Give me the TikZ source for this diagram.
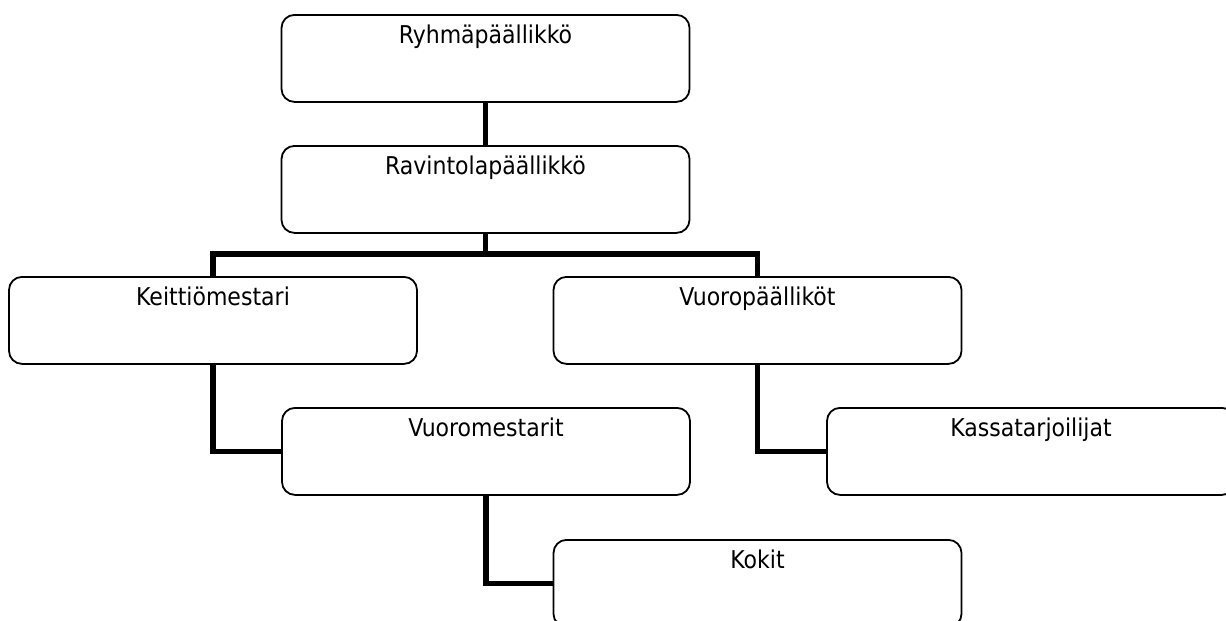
\documentclass[tikz,border=0pt]{standalone}
\usepackage{fontspec}
\setmainfont{DejaVu Sans Condensed}
\usetikzlibrary{positioning}

\tikzset{
    orgbox/.style={draw, line width=1.8pt, rounded corners=13pt, anchor=north,
        minimum width=408pt, inner xsep=0pt, inner ysep=0pt,
        text height=29pt, text depth=58pt, font=\fontsize{24.5}{28}\selectfont},
    link/.style={line width=5.5pt}
}

\begin{document}
\begin{tikzpicture}[x=1pt, y=-1pt]
        \useasboundingbox (0,0) rectangle (1226,621);
        \clip (0,0) rectangle (1226,621);
        % boxes, placed by their top edge
        \node[orgbox] (ryhma) at (485.5,14) {Ryhmäpäällikkö};
        \node[orgbox] (ravintola) at (485.5,145) {Ravintolapäällikkö};
        \node[orgbox] (keittio) at (213,276) {Keittiömestari};
        \node[orgbox] (vuoropaal) at (757.5,276) {Vuoropäälliköt};
        \node[orgbox] (vuoromest) at (486,407) {Vuoromestarit};
        \node[orgbox] (kassa) at (1031,407) {Kassatarjoilijat};
        \node[orgbox] (kokit) at (757.5,539) {Kokit};
        \coordinate (bus) at (485.5,254);
        % connectors
        \draw[link] (ryhma.south) -- (ravintola.north);
        \draw[link] (ravintola.south) -- (bus);
        \draw[link] (keittio.north) |- (bus) -| (vuoropaal.north);
        \draw[link] (keittio.south) |- (vuoromest.west);
        \draw[link] (vuoropaal.south) |- (kassa.west);
        \draw[link] (vuoromest.south) |- (kokit.west);
    \end{tikzpicture}
\end{document}
